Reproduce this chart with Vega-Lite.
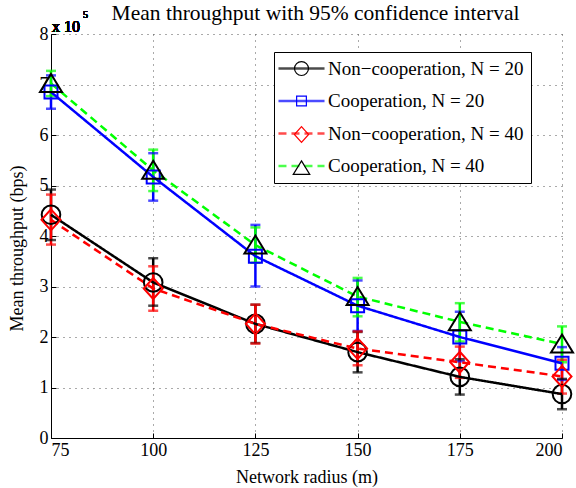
{
  "$schema": "https://vega.github.io/schema/vega-lite/v6.json",
  "width": 511,
  "height": 404,
  "autosize": {"type": "none"},
  "padding": {"left": 51, "top": 34, "right": 14, "bottom": 50},
  "background": "white",
  "title": {"text": "Mean throughput with 95% confidence interval", "font": "Liberation Serif", "fontSize": 21.5, "fontWeight": "normal", "color": "black", "anchor": "middle", "dx": 9, "dy": 24, "offset": 10},
  "config": {
    "view": {"stroke": null},
    "axis": {
      "domainColor": "black", "domainWidth": 1, "tickColor": "black", "tickSize": -5, "labelColor": "black", "titleColor": "black",
      "labelFont": "Liberation Serif", "labelFontSize": 18, "titleFont": "Liberation Serif", "titleFontSize": 18, "titleFontWeight": "normal",
      "grid": true, "gridColor": "#555555", "gridDash": [1, 5], "gridWidth": 1
    }
  },
  "data": {"values": [
    {"radius": 75, "series": "Non−cooperation, N = 20", "mean": 4.42, "lo": 3.92, "hi": 4.92},
    {"radius": 100, "series": "Non−cooperation, N = 20", "mean": 3.08, "lo": 2.62, "hi": 3.56},
    {"radius": 125, "series": "Non−cooperation, N = 20", "mean": 2.26, "lo": 1.88, "hi": 2.64},
    {"radius": 150, "series": "Non−cooperation, N = 20", "mean": 1.70, "lo": 1.30, "hi": 2.10},
    {"radius": 175, "series": "Non−cooperation, N = 20", "mean": 1.21, "lo": 0.86, "hi": 1.56},
    {"radius": 200, "series": "Non−cooperation, N = 20", "mean": 0.87, "lo": 0.57, "hi": 1.17},
    {"radius": 75, "series": "Cooperation, N = 20", "mean": 6.85, "lo": 6.52, "hi": 7.18},
    {"radius": 100, "series": "Cooperation, N = 20", "mean": 5.17, "lo": 4.70, "hi": 5.64},
    {"radius": 125, "series": "Cooperation, N = 20", "mean": 3.60, "lo": 3.00, "hi": 4.22},
    {"radius": 150, "series": "Cooperation, N = 20", "mean": 2.62, "lo": 2.12, "hi": 3.12},
    {"radius": 175, "series": "Cooperation, N = 20", "mean": 2.00, "lo": 1.52, "hi": 2.50},
    {"radius": 200, "series": "Cooperation, N = 20", "mean": 1.48, "lo": 1.15, "hi": 1.80},
    {"radius": 75, "series": "Non−cooperation, N = 40", "mean": 4.32, "lo": 3.83, "hi": 4.82},
    {"radius": 100, "series": "Non−cooperation, N = 40", "mean": 2.96, "lo": 2.52, "hi": 3.40},
    {"radius": 125, "series": "Non−cooperation, N = 40", "mean": 2.26, "lo": 1.87, "hi": 2.64},
    {"radius": 150, "series": "Non−cooperation, N = 40", "mean": 1.77, "lo": 1.44, "hi": 2.11},
    {"radius": 175, "series": "Non−cooperation, N = 40", "mean": 1.50, "lo": 1.19, "hi": 1.81},
    {"radius": 200, "series": "Non−cooperation, N = 40", "mean": 1.22, "lo": 0.88, "hi": 1.55},
    {"radius": 75, "series": "Cooperation, N = 40", "mean": 7.02, "lo": 6.77, "hi": 7.27},
    {"radius": 100, "series": "Cooperation, N = 40", "mean": 5.30, "lo": 4.89, "hi": 5.71},
    {"radius": 125, "series": "Cooperation, N = 40", "mean": 3.82, "lo": 3.47, "hi": 4.17},
    {"radius": 150, "series": "Cooperation, N = 40", "mean": 2.80, "lo": 2.41, "hi": 3.17},
    {"radius": 175, "series": "Cooperation, N = 40", "mean": 2.30, "lo": 1.91, "hi": 2.67},
    {"radius": 200, "series": "Cooperation, N = 40", "mean": 1.86, "lo": 1.50, "hi": 2.21}
  ]},
  "layer": [
    {
      "mark": {"type": "rule", "strokeWidth": 2.5},
      "encoding": {
        "x": {"field": "radius", "type": "quantitative", "scale": {"domain": [75, 200], "nice": false, "zero": false}, "title": "Network radius (m)", "axis": {"values": [75, 100, 125, 150, 175, 200], "labelPadding": 8, "titlePadding": 9}},
        "y": {"field": "lo", "type": "quantitative", "scale": {"domain": [0, 8], "nice": false, "zero": true}, "title": "Mean throughput (bps)", "axis": {"values": [0, 1, 2, 3, 4, 5, 6, 7, 8], "labelPadding": 8, "titleX": -34, "titleY": 214, "titleAlign": "center", "titleBaseline": "middle"}},
        "y2": {"field": "hi"},
        "color": {"field": "series", "type": "nominal", "scale": {"domain": ["Non−cooperation, N = 20", "Cooperation, N = 20", "Non−cooperation, N = 40", "Cooperation, N = 40"], "range": ["#000000", "#0000ff", "#ff0000", "#00ff00"]},
          "legend": {"orient": "none", "legendX": 223, "legendY": 18, "title": null, "symbolType": "M-3.07,0H3.07", "symbolSize": 225, "symbolStrokeWidth": 2.5, "symbolOffset": 11, "labelOffset": 17, "labelFont": "Liberation Serif", "labelFontSize": 19, "labelColor": "black", "labelLimit": 400, "padding": 7, "rowPadding": 12.5, "strokeColor": "black", "fillColor": "white"}}
      }
    },
    {
      "mark": {"type": "tick", "orient": "horizontal", "size": 10, "thickness": 2.5},
      "encoding": {
        "x": {"field": "radius", "type": "quantitative", "title": "Network radius (m)"},
        "y": {"field": "lo", "type": "quantitative", "title": "Mean throughput (bps)"},
        "color": {"field": "series", "type": "nominal"}
      }
    },
    {
      "mark": {"type": "tick", "orient": "horizontal", "size": 10, "thickness": 2.5},
      "encoding": {
        "x": {"field": "radius", "type": "quantitative", "title": "Network radius (m)"},
        "y": {"field": "hi", "type": "quantitative", "title": "Mean throughput (bps)"},
        "color": {"field": "series", "type": "nominal"}
      }
    },
    {
      "mark": {"type": "line", "strokeWidth": 2.5},
      "encoding": {
        "x": {"field": "radius", "type": "quantitative", "title": "Network radius (m)"},
        "y": {"field": "mean", "type": "quantitative", "title": "Mean throughput (bps)"},
        "color": {"field": "series", "type": "nominal"},
        "strokeDash": {"field": "series", "type": "nominal", "scale": {"domain": ["Non−cooperation, N = 20", "Cooperation, N = 20", "Non−cooperation, N = 40", "Cooperation, N = 40"], "range": [[1, 0], [1, 0], [8, 5], [8, 5]]},
          "legend": {"orient": "none", "legendX": 223, "legendY": 18, "title": null, "symbolType": "M-3.07,0H3.07", "symbolSize": 225, "symbolStrokeWidth": 2.5, "symbolOffset": 11, "labelOffset": 17, "labelFont": "Liberation Serif", "labelFontSize": 19, "labelColor": "black", "labelLimit": 400, "padding": 7, "rowPadding": 12.5, "strokeColor": "black", "fillColor": "white"}}
      }
    },
    {
      "mark": {"type": "point", "filled": false, "size": 400, "strokeWidth": 2, "opacity": 1},
      "encoding": {
        "x": {"field": "radius", "type": "quantitative", "title": "Network radius (m)"},
        "y": {"field": "mean", "type": "quantitative", "title": "Mean throughput (bps)"},
        "shape": {"field": "series", "type": "nominal", "scale": {"domain": ["Non−cooperation, N = 20", "Cooperation, N = 20", "Non−cooperation, N = 40", "Cooperation, N = 40", "_"], "range": ["M0.93,0A0.93,0.93 0 1,1 -0.93,0A0.93,0.93 0 1,1 0.93,0Z", "M-0.65,-0.65H0.65V0.65H-0.65Z", "M0,-1.05L0.95,0L0,1.05L-0.95,0Z", "M0,-0.95L1.1,0.85H-1.1Z", "M0.93,0A0.93,0.93 0 1,1 -0.93,0A0.93,0.93 0 1,1 0.93,0Z"]},
          "legend": {"orient": "none", "legendX": 223, "legendY": 18, "title": null, "values": ["Non−cooperation, N = 20", "Cooperation, N = 20", "Non−cooperation, N = 40", "Cooperation, N = 40"], "symbolSize": 225, "symbolStrokeWidth": 1.2, "symbolOffset": 11, "labelOffset": 17, "labelFont": "Liberation Serif", "labelFontSize": 19, "labelColor": "transparent", "labelExpr": "''", "labelLimit": 400, "padding": 7, "rowPadding": 12.5, "strokeColor": null, "fillColor": null}},
        "stroke": {"field": "series", "type": "nominal", "scale": {"domain": ["Non−cooperation, N = 20", "Cooperation, N = 20", "Non−cooperation, N = 40", "Cooperation, N = 40", "_"], "range": ["#000000", "#0000ff", "#ff0000", "#000000", "#000000"]},
          "legend": {"orient": "none", "legendX": 223, "legendY": 18, "title": null, "values": ["Non−cooperation, N = 20", "Cooperation, N = 20", "Non−cooperation, N = 40", "Cooperation, N = 40"], "symbolSize": 225, "symbolStrokeWidth": 1.2, "symbolOffset": 11, "labelOffset": 17, "labelFont": "Liberation Serif", "labelFontSize": 19, "labelColor": "transparent", "labelExpr": "''", "labelLimit": 400, "padding": 7, "rowPadding": 12.5, "strokeColor": null, "fillColor": null}}
      }
    },
    {
      "mark": {"type": "text", "text": "x 10", "align": "left", "baseline": "alphabetic", "dx": 1, "dy": -2, "font": "Liberation Serif", "fontSize": 16, "color": "black"},
      "encoding": {
        "x": {"datum": 75, "type": "quantitative"},
        "y": {"datum": 8, "type": "quantitative"}
      }
    },
    {
      "mark": {"type": "text", "text": "5", "align": "left", "baseline": "alphabetic", "dx": 32, "dy": -16, "font": "Liberation Serif", "fontSize": 10, "color": "black"},
      "encoding": {
        "x": {"datum": 75, "type": "quantitative"},
        "y": {"datum": 8, "type": "quantitative"}
      }
    }
  ]
}
